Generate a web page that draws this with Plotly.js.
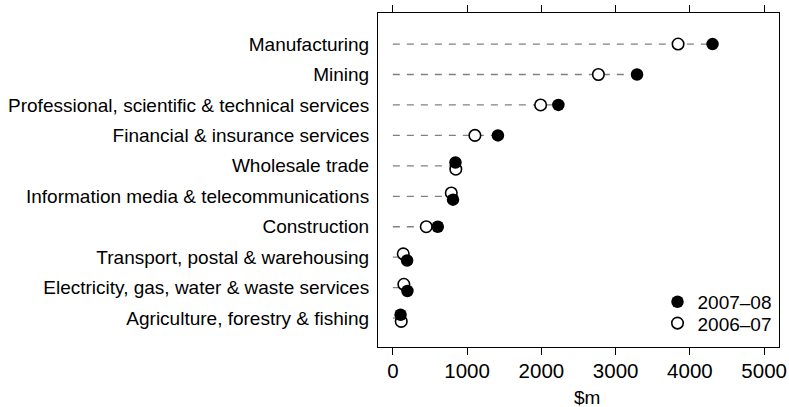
<!DOCTYPE html>
<html>
<head>
<meta charset="utf-8">
<script src="https://cdn.plot.ly/plotly-3.0.1.min.js"></script>
<style>html,body{margin:0;padding:0;background:#fff}#chart{width:789px;height:407px}</style>
</head>
<body>
<div id="chart"></div>
<script>
// Categories, bottom to top
const categories = [
  'Agriculture, forestry & fishing',
  'Electricity, gas, water & waste services',
  'Transport, postal & warehousing',
  'Construction',
  'Information media & telecommunications',
  'Wholesale trade',
  'Financial & insurance services',
  'Professional, scientific & technical services',
  'Mining',
  'Manufacturing'
];
// $m
const v2007_08 = [104, 196, 192, 605, 810, 843, 1415, 2229, 3288, 4305];
const v2006_07 = [113, 148, 140, 450, 787, 848, 1105, 1990, 2768, 3841];
const xTicks = [0, 1000, 2000, 3000, 4000, 5000];

const FONT = 'Liberation Sans, Arial, sans-serif';
const idx = categories.map((c, i) => i);

// vertical nudge when the two points would overlap (larger value drawn lower)
const NEAR = 120, NUDGE = 0.11;
const y08 = idx.map(i => {
  const a = v2007_08[i], b = v2006_07[i];
  if (Math.abs(a - b) >= NEAR) return i;
  return a > b ? i - NUDGE : i + NUDGE;
});
const y07 = idx.map(i => {
  const a = v2007_08[i], b = v2006_07[i];
  if (Math.abs(a - b) >= NEAR) return i;
  return b > a ? i - NUDGE : i + NUDGE;
});

// dashed guide lines from 0 to the larger value
const lx = [], ly = [];
idx.forEach(i => {
  lx.push(0, Math.max(v2007_08[i], v2006_07[i]), null);
  ly.push(i, i, null);
});

const traces = [
  {x: lx, y: ly, type: 'scatter', mode: 'lines', showlegend: false, hoverinfo: 'skip',
   line: {color: '#808080', width: 1.3, dash: '7px,7px'}},
  {x: v2006_07, y: y07, type: 'scatter', mode: 'markers', name: '2006–07', legend: 'legend2',
   marker: {symbol: 'circle', size: 11.5, color: '#ffffff', line: {color: '#000', width: 1.6}}},
  {x: v2007_08, y: y08, type: 'scatter', mode: 'markers', name: '2007–08', legend: 'legend',
   marker: {symbol: 'circle', size: 12.5, color: '#000000', line: {color: '#000', width: 0}}}
];

const legendFont = {family: FONT, size: 19, color: '#000'};
const layout = {
  width: 789, height: 407,
  margin: {l: 378, r: 10, t: 13, b: 60},
  paper_bgcolor: '#fff', plot_bgcolor: '#fff',
  font: {family: FONT, size: 19, color: '#000'},
  showlegend: true,
  legend: {x: 0.697, y: 0.192, xanchor: 'left', yanchor: 'top', bgcolor: 'rgba(0,0,0,0)', font: legendFont},
  legend2: {x: 0.697, y: 0.128, xanchor: 'left', yanchor: 'top', bgcolor: 'rgba(0,0,0,0)', font: legendFont},
  xaxis: {range: [-200, 5200], tickvals: xTicks, ticktext: xTicks.map(String),
          ticks: 'outside', ticklen: 7, tickwidth: 1, tickcolor: '#000',
          showline: true, linecolor: '#000', linewidth: 1, mirror: 'ticks',
          showgrid: false, zeroline: false, tickfont: {family: FONT, size: 20.5},
          ticklabelstandoff: -2},
  yaxis: {range: [-0.95, 10.02], tickvals: idx, ticktext: categories,
          ticks: '', showline: true, linecolor: '#000', linewidth: 1, mirror: true,
          showgrid: false, zeroline: false, tickfont: {family: FONT, size: 19},
          ticklabelstandoff: 4},
  annotations: [{text: '$m', xref: 'paper', yref: 'paper', x: 0.52, y: -0.151,
                 xanchor: 'center', yanchor: 'middle', showarrow: false,
                 font: {family: FONT, size: 19, color: '#000'}}]
};

Plotly.newPlot('chart', traces, layout, {staticPlot: true, displayModeBar: false});
</script>
</body>
</html>
